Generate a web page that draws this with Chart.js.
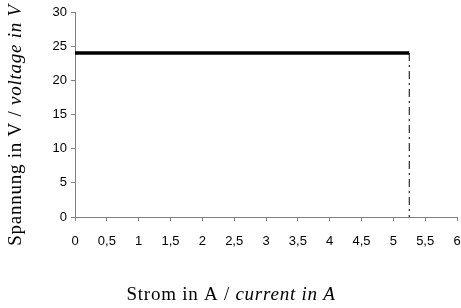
<!DOCTYPE html>
<html>
<head>
<meta charset="utf-8">
<script src="https://cdn.jsdelivr.net/npm/chart.js@4/dist/chart.umd.min.js"></script>
<style>
  html, body { margin: 0; padding: 0; background: #fff; overflow: hidden; }
  #wrap { width: 461px; height: 308px; position: relative; }
</style>
</head>
<body>
<div id="wrap"><canvas id="c"></canvas></div>
<script>
// constant voltage segment up to the current limit
const current = [0, 5.25];
const voltage = [24, 24];
// vertical cut-off at the current limit
const limitCurrent = [5.25, 5.25];
const limitVoltage = [24, 0];

const xTicks = [0, 0.5, 1, 1.5, 2, 2.5, 3, 3.5, 4, 4.5, 5, 5.5, 6];
const yTicks = [0, 5, 10, 15, 20, 25, 30];

const xTitle = ["Strom in A / ", "current in A"];
const yTitle = ["Spannung in V / ", "voltage in V"];

const axisGray = "#808080";

function pts(xs, ys) {
  return xs.map((x, i) => ({ x: x, y: ys[i] }));
}

// draw a title made of a normal part and an italic part, centred on 0
function mixedText(ctx, parts, size) {
  const fonts = [size + "px 'Liberation Serif', 'Times New Roman', serif",
                 "italic " + size + "px 'Liberation Serif', 'Times New Roman', serif"];
  ctx.letterSpacing = "0.75px";
  let w = 0;
  const widths = parts.map((p, i) => { ctx.font = fonts[i]; const m = ctx.measureText(p).width; w += m; return m; });
  let x = -w / 2;
  parts.forEach((p, i) => {
    ctx.font = fonts[i];
    ctx.fillText(p, x, 0);
    x += widths[i];
  });
}

const titles = {
  id: "titles",
  afterDraw(chart) {
    const ctx = chart.ctx;
    ctx.save();
    ctx.fillStyle = "#000";
    ctx.textBaseline = "middle";
    ctx.textAlign = "left";
    ctx.translate(231, 295);
    mixedText(ctx, xTitle, 19);
    ctx.restore();

    ctx.save();
    ctx.fillStyle = "#000";
    ctx.textBaseline = "middle";
    ctx.textAlign = "left";
    ctx.translate(16, 125);
    ctx.rotate(-Math.PI / 2);
    mixedText(ctx, yTitle, 19);
    ctx.restore();
  }
};

new Chart(document.getElementById("c"), {
  type: "scatter",
  data: {
    datasets: [
      {
        data: pts(current, voltage),
        showLine: true,
        borderColor: "#000",
        borderWidth: 3.5,
        pointRadius: 0,
        borderCapStyle: "butt"
      },
      {
        data: pts(limitCurrent, limitVoltage),
        showLine: true,
        borderColor: "#000",
        borderWidth: 1,
        borderDash: [8, 4, 2, 4],
        pointRadius: 0
      }
    ]
  },
  options: {
    responsive: true,
    maintainAspectRatio: false,
    animation: false,
    layout: { padding: { left: 0, top: 12, right: 4, bottom: 0 } },
    plugins: { legend: { display: false }, tooltip: { enabled: false } },
    scales: {
      x: {
        type: "linear",
        min: 0,
        max: 6,
        afterBuildTicks: s => { s.ticks = xTicks.map(v => ({ value: v })); },
        afterFit: s => { s.height = 91; s.paddingLeft = 0; s.paddingRight = 0; },
        border: { color: axisGray, width: 1 },
        grid: { drawOnChartArea: false, color: axisGray, tickLength: 4 },
        ticks: {
          color: "#000",
          padding: 13,
          maxRotation: 0,
          autoSkip: false,
          font: { family: "'Liberation Sans', Arial, sans-serif", size: 13 },
          callback: v => String(v).replace(".", ",")
        }
      },
      y: {
        type: "linear",
        min: 0,
        max: 30,
        afterBuildTicks: s => { s.ticks = yTicks.map(v => ({ value: v })); },
        afterFit: s => { s.width = 75; s.paddingTop = 0; s.paddingBottom = 0; },
        border: { color: axisGray, width: 1 },
        grid: { drawOnChartArea: false, color: axisGray, tickLength: 4 },
        ticks: {
          color: "#000",
          padding: 4,
          font: { family: "'Liberation Sans', Arial, sans-serif", size: 13 }
        }
      }
    }
  },
  plugins: [titles]
});
</script>
</body>
</html>
